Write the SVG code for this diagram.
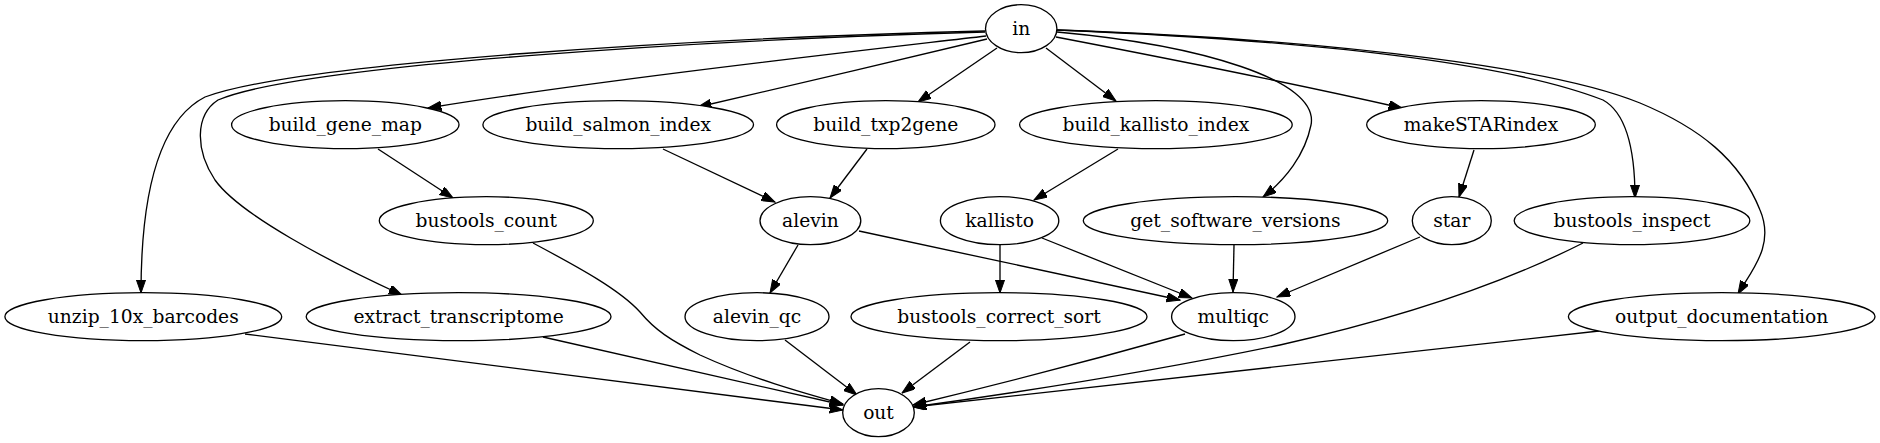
<svg xmlns="http://www.w3.org/2000/svg" width="1880" height="443" viewBox="0 0 1880 443">
<style>
.n ellipse{fill:#fff;stroke:#000;stroke-width:1.33}
.n text{font-family:"DejaVu Serif",serif;font-size:18.67px;text-anchor:middle;fill:#000}
.e path{fill:none;stroke:#000;stroke-width:1.33;marker-end:url(#ah)}
</style>
<defs>
<marker id="ah" markerUnits="userSpaceOnUse" markerWidth="14" markerHeight="10" refX="13.3" refY="4.67" orient="auto">
<path d="M0,0 L13.3,4.67 L0,9.33 z" fill="#000" stroke="#000" stroke-width="1"/>
</marker>
</defs>
<rect width="1880" height="443" fill="#fff"/>
<g id="edges" class="e">
<path d="M986,36 C850,52 600,80 428,108"/>
<path d="M987,39 C900,60 780,88 698,107"/>
<path d="M997,48 L918,102"/>
<path d="M1046,48 L1116,101"/>
<path d="M1056,37 C1150,55 1300,85 1402,108"/>
<path d="M1057,32 C1200,45 1320,80 1311,125 C1305,155 1285,180 1263,197"/>
<path d="M1057,30 C1300,40 1500,60 1603,100 C1630,115 1635,160 1635,198"/>
<path d="M1057,30 C1350,40 1560,70 1640,103 C1700,128 1740,160 1760,210 C1775,245 1752,270 1738,294"/>
<path d="M985,31 C700,38 300,62 205,97 C160,120 141,190 141,293"/>
<path d="M985,32 C700,40 300,65 218,100 C195,115 195,150 215,180 C240,215 330,262 402,295"/>
<path d="M378,149 L453,198"/>
<path d="M663,149 L775,202"/>
<path d="M867,149 L830,198"/>
<path d="M1118,149 L1034,200"/>
<path d="M1474,150 L1459,197"/>
<path d="M533,243 C580,268 620,290 640,312 C655,330 670,340 700,355 C750,378 800,392 843,404"/>
<path d="M798,245 L770,293"/>
<path d="M859,231 L1180,300"/>
<path d="M1000,245 L1000,293"/>
<path d="M1042,238 L1192,298"/>
<path d="M1234,245 L1233,292"/>
<path d="M1420,237 L1277,297"/>
<path d="M1583,243 C1500,285 1400,318 1280,345 C1150,372 1000,395 913,407"/>
<path d="M1599,331 L913,407"/>
<path d="M1185,334 Q1050,372 913,405"/>
<path d="M970,342 L902,393"/>
<path d="M785,340 L857,395"/>
<path d="M543,337 L843,405"/>
<path d="M245,334 L843,410"/>
</g>
<g id="in" class="n"><ellipse cx="1021.2" cy="28.7" rx="35.7" ry="24"/><text x="1021.2" y="34.7">in</text></g>
<g id="build_gene_map" class="n"><ellipse cx="345.3" cy="124.7" rx="113.7" ry="24"/><text x="345.3" y="130.7">build_gene_map</text></g>
<g id="build_salmon_index" class="n"><ellipse cx="618.2" cy="124.7" rx="135.3" ry="24"/><text x="618.2" y="130.7">build_salmon_index</text></g>
<g id="build_txp2gene" class="n"><ellipse cx="885.8" cy="124.7" rx="109.2" ry="24"/><text x="885.8" y="130.7">build_txp2gene</text></g>
<g id="build_kallisto_index" class="n"><ellipse cx="1155.9" cy="124.7" rx="136.3" ry="24"/><text x="1155.9" y="130.7">build_kallisto_index</text></g>
<g id="makeSTARindex" class="n"><ellipse cx="1481" cy="124.7" rx="114.3" ry="24"/><text x="1481" y="130.7">makeSTARindex</text></g>
<g id="bustools_count" class="n"><ellipse cx="486.3" cy="220.7" rx="107" ry="24"/><text x="486.3" y="226.7">bustools_count</text></g>
<g id="alevin" class="n"><ellipse cx="810.4" cy="220.7" rx="50.4" ry="24"/><text x="810.4" y="226.7">alevin</text></g>
<g id="kallisto" class="n"><ellipse cx="999.6" cy="220.7" rx="59.2" ry="24"/><text x="999.6" y="226.7">kallisto</text></g>
<g id="get_software_versions" class="n"><ellipse cx="1235.5" cy="220.7" rx="152.2" ry="24"/><text x="1235.5" y="226.7">get_software_versions</text></g>
<g id="star" class="n"><ellipse cx="1451.8" cy="220.7" rx="39.5" ry="24"/><text x="1451.8" y="226.7">star</text></g>
<g id="bustools_inspect" class="n"><ellipse cx="1632" cy="220.7" rx="117.8" ry="24"/><text x="1632" y="226.7">bustools_inspect</text></g>
<g id="unzip_10x_barcodes" class="n"><ellipse cx="143.3" cy="316.7" rx="138.4" ry="24"/><text x="143.3" y="322.7">unzip_10x_barcodes</text></g>
<g id="extract_transcriptome" class="n"><ellipse cx="458.6" cy="316.7" rx="152.4" ry="24"/><text x="458.6" y="322.7">extract_transcriptome</text></g>
<g id="alevin_qc" class="n"><ellipse cx="757" cy="316.7" rx="72" ry="24"/><text x="757" y="322.7">alevin_qc</text></g>
<g id="bustools_correct_sort" class="n"><ellipse cx="999" cy="316.7" rx="148" ry="24"/><text x="999" y="322.7">bustools_correct_sort</text></g>
<g id="multiqc" class="n"><ellipse cx="1233.3" cy="316.7" rx="61.7" ry="24"/><text x="1233.3" y="322.7">multiqc</text></g>
<g id="output_documentation" class="n"><ellipse cx="1721.7" cy="316.7" rx="153.3" ry="24"/><text x="1721.7" y="322.7">output_documentation</text></g>
<g id="out" class="n"><ellipse cx="878.5" cy="412.7" rx="35.8" ry="24"/><text x="878.5" y="418.7">out</text></g>
</svg>
